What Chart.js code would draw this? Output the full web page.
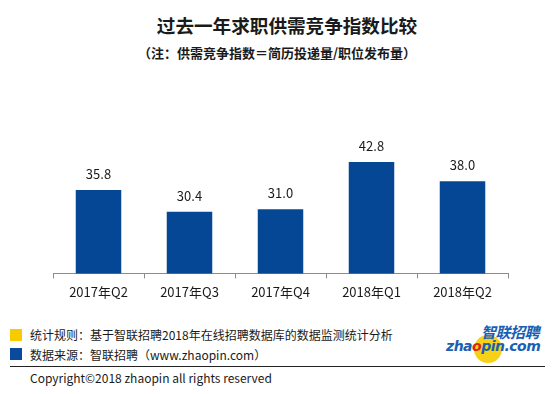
<!DOCTYPE html>
<html><head><meta charset="utf-8">
<script src="https://cdn.jsdelivr.net/npm/chart.js@4"></script>
<style>
html,body{margin:0;padding:0;background:#fff;}
body{width:554px;height:394px;position:relative;overflow:hidden;font-family:"Noto Sans CJK SC","Noto Sans",sans-serif;color:#1a1a1a;}
.abs{position:absolute;white-space:nowrap;}
#title{left:0;width:574px;top:12px;text-align:center;font-size:18.6px;font-weight:bold;line-height:26px;}
#sub{left:0;width:554px;top:44px;text-align:center;font-size:13px;font-weight:bold;line-height:18px;}
#wrap{position:absolute;left:0;top:0;width:554px;height:310px;}
.sq{position:absolute;width:12px;height:12px;}
.note{font-size:12px;line-height:16px;left:30px;}
#rule{position:absolute;left:10px;top:366px;width:535px;height:1px;background:#222;}
#copy{left:30px;top:370px;font-size:12px;line-height:16px;}
#logoCircle{position:absolute;left:474px;top:335px;width:28px;height:28px;border-radius:50%;background:#f7d117;}
#logoCn{left:481px;top:323px;font-size:15px;font-weight:bold;font-style:italic;color:#1a5fb4;line-height:18px;letter-spacing:-0.5px;}
#logoEn{left:446px;top:337px;font-size:14px;font-weight:bold;font-style:italic;color:#1a5fb4;line-height:18px;font-family:"DejaVu Sans",sans-serif;letter-spacing:-0.5px;}
#logoEn .o{color:#d9261c;}
</style></head><body>
<div id="title" class="abs">过去一年求职供需竞争指数比较</div>
<div id="sub" class="abs">（注：供需竞争指数＝简历投递量/职位发布量）</div>
<div id="wrap"><canvas id="c" width="554" height="310"></canvas></div>
<div class="sq" style="left:10px;top:329px;background:#f7cb00;"></div>
<div class="sq" style="left:10px;top:348px;background:#0a4a9c;"></div>
<div class="abs note" style="top:327px;">统计规则：基于智联招聘2018年在线招聘数据库的数据监测统计分析</div>
<div class="abs note" style="top:347px;">数据来源：智联招聘（www.zhaopin.com）</div>
<div id="rule"></div>
<div id="copy" class="abs">Copyright©2018 zhaopin all rights reserved</div>
<div id="logoCircle"></div>
<div id="logoCn" class="abs">智联招聘</div>
<div id="logoEn" class="abs">zha<span class="o">o</span>pin.com</div>
<script>
const categories = ["2017年Q2","2017年Q3","2017年Q4","2018年Q1","2018年Q2"];
const values = [35.8, 30.4, 31.0, 42.8, 38.0];
const valueLabels = ["35.8","30.4","31.0","42.8","38.0"];

const labelPlugin = {
  id: 'valueLabels',
  afterDatasetsDraw(chart) {
    const ctx = chart.ctx;
    const meta = chart.getDatasetMeta(0);
    ctx.save();
    ctx.font = '13px "Noto Sans CJK SC", "Noto Sans", sans-serif';
    ctx.fillStyle = '#1a1a1a';
    ctx.textAlign = 'center';
    ctx.textBaseline = 'middle';
    meta.data.forEach((bar, i) => {
      ctx.fillText(valueLabels[i], bar.x, bar.y - 16);
    });
    ctx.restore();
  }
};

new Chart(document.getElementById('c'), {
  type: 'bar',
  data: {
    labels: categories,
    datasets: [{
      data: values,
      backgroundColor: '#064795',
      borderWidth: 0,
      categoryPercentage: 1.0,
      barPercentage: 0.5
    }]
  },
  options: {
    responsive: false,
    animation: false,
    events: [],
    layout: { padding: { left: 53, right: 46, top: 113, bottom: 4 } },
    plugins: { legend: { display: false }, tooltip: { enabled: false }, title: { display: false } },
    scales: {
      y: { display: false, min: 15, max: 55 },
      x: {
        offset: true,
        grid: { display: true, drawOnChartArea: false, drawTicks: true, tickLength: 5, color: '#8c8c8c', offset: true },
        border: { display: true, color: '#8c8c8c', width: 1 },
        ticks: { color: '#1a1a1a', padding: 6, font: { size: 13, family: '"Noto Sans CJK SC", "Noto Sans", sans-serif' } }
      }
    }
  },
  plugins: [labelPlugin]
});
</script>
</body></html>
